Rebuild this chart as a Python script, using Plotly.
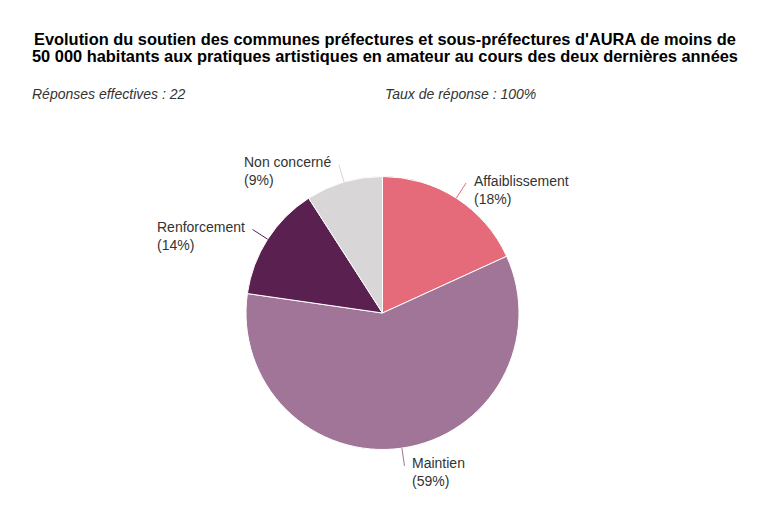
import math
import plotly.graph_objects as go

labels = ["Affaiblissement", "Maintien", "Renforcement", "Non concerné"]
values = [4, 13, 3, 2]
colors = ["#E56A7A", "#A07598", "#5A2150", "#D9D6D8"]

title_lines = ["Evolution du soutien des communes préfectures et sous-préfectures d'AURA de moins de",
               "50 000 habitants aux pratiques artistiques en amateur au cours des deux dernières années"]
sub_left = "Réponses effectives : 22"
sub_right = "Taux de réponse : 100%"

W, H = 780, 532
cx, cy, R = 382.5, 313.0, 136.5
FONT = "Liberation Sans, Arial, sans-serif"

def px(x):
    return x / W

def py(y):
    return 1 - y / H

fig = go.Figure()
fig.add_trace(go.Pie(
    labels=labels, values=values, sort=False, direction="clockwise", rotation=0,
    marker=dict(colors=colors, line=dict(color="white", width=1)),
    textinfo="none", hoverinfo="label+percent", showlegend=False,
    domain=dict(x=[px(cx - R), px(cx + R)], y=[py(cy + R), py(cy - R)]),
))

total = sum(values)
shapes = []
annotations = []
cum = 0
for lab, v, col in zip(labels, values, colors):
    mid = (cum + v / 2) / total * 2 * math.pi
    cum += v
    s, c = math.sin(mid), math.cos(mid)
    x0, y0 = cx + R * s, cy - R * c
    x1, y1 = cx + (R + 18) * s, cy - (R + 18) * c
    shapes.append(dict(type="line", xref="paper", yref="paper",
                       x0=px(x0), y0=py(y0), x1=px(x1), y1=py(y1),
                       line=dict(color=col, width=1)))
    pct = round(v / total * 100)
    right = s >= 0
    annotations.append(dict(
        text=f"{lab}<br>({pct}%)", xref="paper", yref="paper",
        x=px(x1 + (6 if right else -6)), y=py(y1 + 6.5),
        xanchor="left" if right else "right", yanchor="middle",
        align="left", showarrow=False,
        font=dict(family=FONT, size=14, color="#333333"),
    ))

for i, line in enumerate(title_lines):
    annotations.append(dict(text=f"<b>{line}</b>", xref="paper", yref="paper",
                            x=px(385), y=py(38.5 + 17 * i), xanchor="center", yanchor="middle",
                            showarrow=False, align="center",
                            font=dict(family=FONT, size=16.4, color="#000000")))
annotations.append(dict(text=f"<i>{sub_left}</i>", xref="paper", yref="paper",
                        x=px(30), y=py(94), xanchor="left", yanchor="middle",
                        showarrow=False, font=dict(family=FONT, size=14, color="#333333")))
annotations.append(dict(text=f"<i>{sub_right}</i>", xref="paper", yref="paper",
                        x=px(383), y=py(94), xanchor="left", yanchor="middle",
                        showarrow=False, font=dict(family=FONT, size=14, color="#333333")))

fig.update_layout(
    width=W, height=H, margin=dict(l=0, r=0, t=0, b=0),
    paper_bgcolor="white", plot_bgcolor="white",
    shapes=shapes, annotations=annotations,
)
fig.write_html("out.html")
